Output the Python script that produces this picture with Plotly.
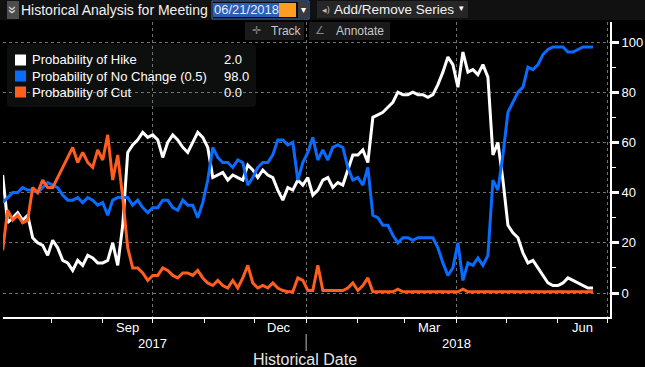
import pandas as pd
import plotly.graph_objects as go

# ---------------- data ----------------
dates = pd.date_range("2017-07-03", periods=119, freq="3D")

hike = [47, 28, 30, 32, 29, 31, 22, 20, 19, 15, 21, 18, 13, 12, 9, 13, 11, 15, 14, 12,
        12, 13, 20, 11, 27, 56, 59, 61, 64, 62, 63, 61, 54, 60, 63, 61, 58, 56, 60, 64,
        62, 58, 46, 47, 48, 45, 47, 46, 45, 51, 49, 46, 49, 47, 46, 41, 37, 42, 41, 45,
        43, 46, 39, 41, 45, 46, 42, 44, 43, 49, 55, 55, 57, 52, 70, 71, 72, 74, 76, 80,
        79, 79, 80, 79, 79, 78, 79, 83, 88, 94, 91, 82, 96, 88, 89, 87, 91, 86, 55, 60,
        45, 27, 24, 22, 16, 12, 13, 10, 7, 4, 3, 3, 4, 6, 5, 4, 3, 2, 2]

no_change = [36, 38, 40, 40, 42, 41, 41, 40, 42, 44, 43, 42, 39, 37, 37, 38, 36, 38, 37, 35,
             36, 31, 37, 38, 38, 38, 35, 37, 34, 32, 34, 34, 37, 37, 34, 33, 37, 35, 35, 30,
             36, 45, 58, 54, 52, 52, 50, 53, 52, 43, 46, 50, 52, 52, 55, 61, 61, 59, 60, 45,
             52, 56, 62, 53, 57, 53, 58, 59, 58, 50, 45, 46, 43, 50, 31, 30, 27, 27, 23, 20,
             22, 22, 21, 22, 22, 22, 22, 18, 12, 7, 10, 20, 5, 12, 11, 14, 11, 15, 45, 41,
             55, 72, 76, 80, 82, 90, 89, 91, 95, 97, 98, 98, 98, 96, 96, 97, 98, 98, 98]

cut = [17, 33, 29, 31, 28, 29, 42, 40, 45, 42, 42, 46, 50, 54, 58, 52, 56, 52, 50, 57,
       53, 63, 45, 55, 38, 18, 10, 10, 8, 5, 7, 7, 10, 9, 7, 6, 8, 8, 7, 9,
       6, 4, 3, 5, 3, 2, 5, 2, 6, 11, 4, 2, 3, 2, 4, 2, 1, 0.5, 0.5, 6,
       5, 1, 1, 11, 1, 1, 1, 1, 1, 2, 4, 1, 3, 6, 0.5, 0.5, 0.5, 0.5, 0.5, 1.5,
       0.5, 0.5, 0.5, 0.5, 0.5, 0.5, 0.5, 0.5, 0.5, 0.5, 0.5, 0.5, 1.5, 0.5, 0.5, 0.5, 0.5, 0.5, 0.5, 0.5,
       0.5, 0.5, 0.5, 0.5, 0.5, 0.5, 0.5, 0.5, 0.5, 0.5, 0.5, 0.5, 0.5, 0.5, 0.5, 0.5, 0.5, 0.5, 0.5]

series_names = ["Probability of Hike", "Probability of No Change (0.5)", "Probability of Cut"]
series_last = ["2.0", "98.0", "0.0"]
series_colors = ["#ffffff", "#0a6cff", "#ff5e1f"]

y_ticks = [0, 20, 40, 60, 80, 100]
y_minor = [10, 30, 50, 70, 90]
quarter_starts = ["2017-10-01", "2018-01-01", "2018-04-01", "2018-07-01"]
month_labels = ["Sep", "Dec", "Mar", "Jun"]
month_label_dates = ["2017-09-16", "2017-12-16", "2018-03-16", "2018-06-16"]
year_labels = ["2017", "2018"]
year_label_dates = ["2017-10-01", "2018-04-01"]

FONT = "Liberation Sans Narrow, Arial Narrow, Liberation Sans, Arial, sans-serif"

# ---------------- geometry helpers (pixel -> paper) ----------------
L, R, T, B = 3, 35, 22, 50
W = 645 - L - R
H = 367 - T - B


def px(x):
    return (x - L) / W


def py(y):
    return (367 - B - y) / H


fig = go.Figure()
for vals, name, col in zip([hike, no_change, cut], series_names, series_colors):
    fig.add_trace(go.Scatter(x=dates, y=vals, mode="lines", name=name,
                             line=dict(color=col, width=3), showlegend=False))

shapes = []
ann = []


def rect(x0, y0, x1, y1, fill, line=None, layer="above"):
    shapes.append(dict(type="rect", xref="paper", yref="paper", x0=px(x0), x1=px(x1),
                       y0=py(y1), y1=py(y0), fillcolor=fill, layer=layer,
                       line=dict(width=1 if line else 0, color=line or fill)))


def text(x, y, s, size=14, color="#ffffff", anchor="left", family=FONT, **kw):
    ann.append(dict(x=px(x), y=py(y), xref="paper", yref="paper", text=s, showarrow=False,
                    xanchor=anchor, yanchor="middle", borderpad=0,
                    font=dict(size=size, color=color, family=family), **kw))


# header bar
rect(0, 0, 645, 20, "#111111")
rect(7, 1, 19, 19, "#4d4d4d")
text(13, 10, "»", size=14, color="#e8e8e8", anchor="center", textangle=90)
text(20, 10, "Historical Analysis for Meeting", size=14, color="#f2f2f2")
rect(212, 1, 309, 19, "#0a0a0a", line="#3d6fc2")
rect(213, 3, 279, 17, "#2c5fb0")
rect(279, 3, 296, 17, "#ff9d21")
rect(298, 2, 308, 18, "#3a3a3a")
text(303, 10, "▾", size=10, color="#ffffff", anchor="center", family="DejaVu Sans")
text(213, 10, "06/21/2018", size=13, color="#e4ecff")
rect(317, 1, 468, 18, "#262626")
text(321, 10, "◂)", size=9, color="#bbbbbb", family="DejaVu Sans")
text(333, 10, "Add/Remove Series", size=13.5, color="#f2f2f2")
text(462, 8, "▾", size=9, color="#ffffff", anchor="center", family="DejaVu Sans")

# Track / Annotate buttons
rect(245, 22, 304, 40, "#1a1a1a")
text(256, 31, "✛", size=11, color="#888888", anchor="center", family="DejaVu Sans")
text(270, 31, "Track", size=12, color="#c8c8c8")
rect(309, 22, 390, 40, "#1a1a1a")
text(320, 31, "∠", size=11, color="#888888", anchor="center", family="DejaVu Sans")
text(335, 31, "Annotate", size=12, color="#c8c8c8")

# legend box (rounded)
x0, x1, y0, y1, r = px(7), px(256), py(107), py(44), 4
rx, ry = r / W, r / H
path = (f"M {x0+rx},{y0} L {x1-rx},{y0} Q {x1},{y0} {x1},{y0+ry} L {x1},{y1-ry} "
        f"Q {x1},{y1} {x1-rx},{y1} L {x0+rx},{y1} Q {x0},{y1} {x0},{y1-ry} "
        f"L {x0},{y0+ry} Q {x0},{y0} {x0+rx},{y0} Z")
shapes.append(dict(type="path", xref="paper", yref="paper", path=path,
                   fillcolor="#0c0f0e", line=dict(width=0), layer="below"))
for k, (name, val, col) in enumerate(zip(series_names, series_last, series_colors)):
    yc = 60 + 16 * k
    rect(15, yc - 5.5, 26, yc + 5.5, col)
    text(31, yc, name, size=13, color="#ffffff")
    text(223, yc, val, size=13, color="#ffffff")

# x-axis labels
for lab, d in zip(month_labels, month_label_dates):
    ann.append(dict(x=d, y=py(327), xref="x", yref="paper", text=lab, showarrow=False,
                    xanchor="center", yanchor="middle", font=dict(size=13, color="#ffffff", family=FONT)))
for lab, d in zip(year_labels, year_label_dates):
    ann.append(dict(x=d, y=py(343), xref="x", yref="paper", text=lab, showarrow=False,
                    xanchor="center", yanchor="middle", font=dict(size=13, color="#ffffff", family=FONT)))
shapes.append(dict(type="line", xref="x", yref="paper", x0="2018-01-01", x1="2018-01-01",
                   y0=py(351), y1=py(334), line=dict(color="#bbbbbb", width=1)))
text(305, 359, "Historical Date", size=16, color="#e6e6e6", anchor="center")

fig.update_layout(
    width=645, height=367,
    margin=dict(l=L, r=R, t=T, b=B),
    paper_bgcolor="#000000", plot_bgcolor="#000000",
    shapes=shapes, annotations=ann,
    xaxis=dict(type="date", range=["2017-07-03 05:00", "2018-07-02 05:00"],
               showline=True, linecolor="#ffffff", linewidth=1.5,
               tickvals=quarter_starts, showticklabels=False,
               ticks="outside", ticklen=4, tickcolor="#ffffff", tickwidth=1,
               showgrid=True, gridcolor="#707070", griddash="dot", gridwidth=1,
               minor=dict(dtick="M1", tick0="2017-08-01", ticks="outside", ticklen=4,
                          tickcolor="#ffffff", tickwidth=1, showgrid=False),
               zeroline=False, fixedrange=True),
    yaxis=dict(side="right", range=[-9.56, 107.97], tickvals=y_ticks,
               showline=True, linecolor="#ffffff", linewidth=2,
               ticks="outside", ticklen=7, tickwidth=3, tickcolor="#ffffff",
               tickfont=dict(size=13, color="#ffffff", family=FONT),
               showgrid=True, gridcolor="#707070", griddash="dot", gridwidth=1,
               minor=dict(tickvals=y_minor, ticks="outside", ticklen=4, tickcolor="#ffffff",
                          tickwidth=1, showgrid=False),
               zeroline=False, fixedrange=True),
)

fig.write_html("out.html", config={"displayModeBar": False},
               post_script="document.body.style.margin='0';document.body.style.overflow='hidden';")
